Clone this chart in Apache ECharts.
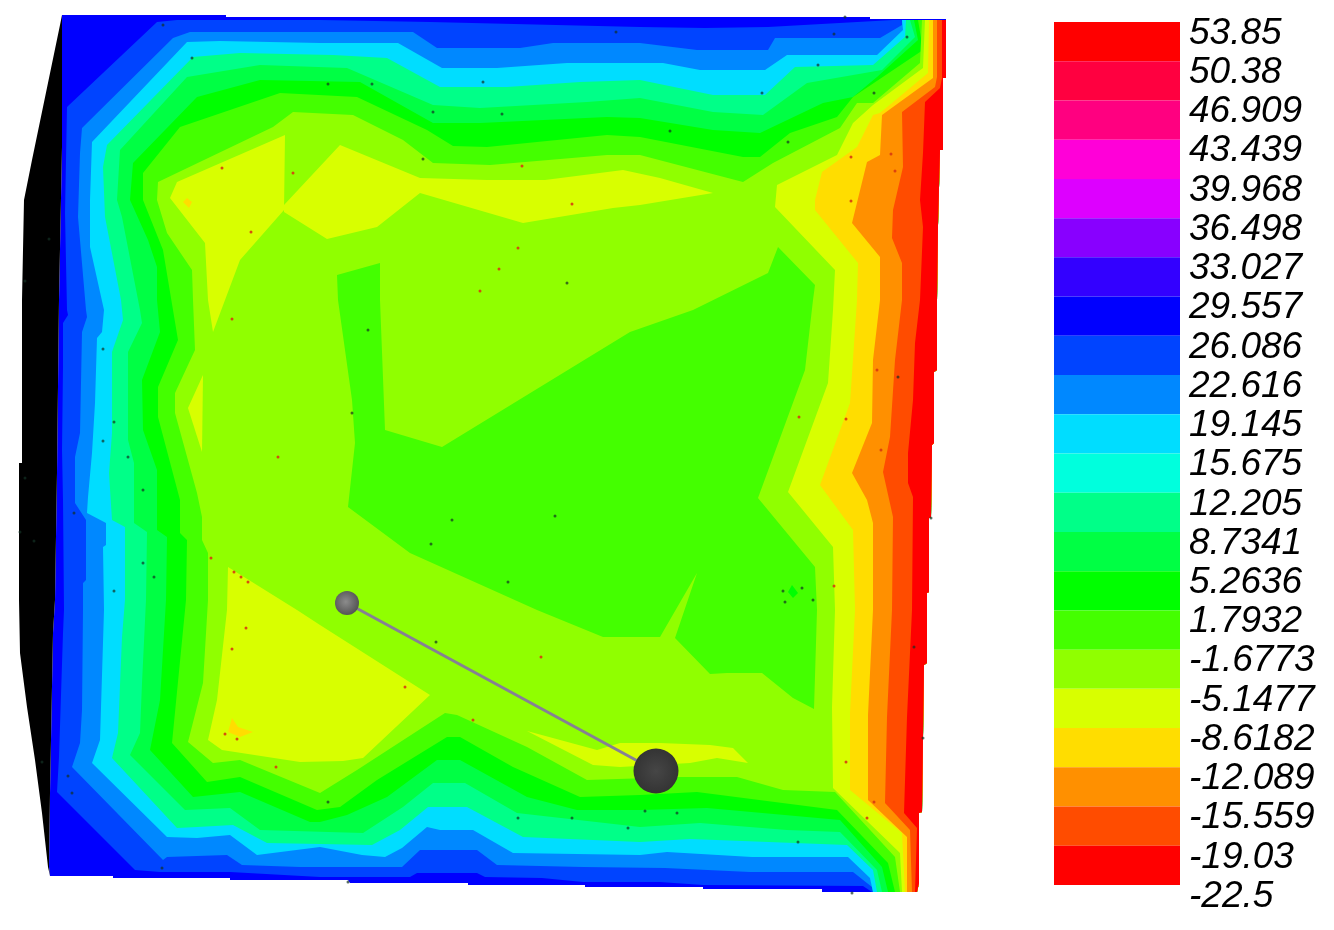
<!DOCTYPE html>
<html>
<head>
<meta charset="utf-8">
<title>Contour plot</title>
<style>
html, body { margin: 0; padding: 0; background: #fff; }
#chart { width: 1334px; height: 930px; filter: blur(0.6px); }
</style>
<script src="https://cdn.jsdelivr.net/npm/echarts@6/dist/echarts.min.js"></script>
</head>
<body>
<div id="chart"></div>
<script>
// colour scale, top to bottom
var levels = [53.85, 50.38, 46.909, 43.439, 39.968, 36.498, 33.027, 29.557, 26.086, 22.616, 19.145,
    15.675, 12.205, 8.7341, 5.2636, 1.7932, -1.6773, -5.1477, -8.6182, -12.089, -15.559, -19.03, -22.5];
var bandColors = ['#ff0000', '#ff0040', '#ff0080', '#ff00d8', '#dd00ff', '#8800ff', '#3300ff', '#0000ff',
    '#0044ff', '#0088ff', '#00ddff', '#00ffdd', '#00ff88', '#00ff44', '#00ff00', '#44ff00', '#90ff00',
    '#d8ff00', '#ffdd00', '#ff9000', '#ff4c00', '#ff0000'];

// plate edges
var topEdge = [[62, 15], [226, 15], [226, 17], [870, 17], [870, 19], [946, 19]];
var rightEdge = [[946, 20], [946, 78], [943, 78], [943, 150], [940, 150], [938, 225], [937, 300], [937, 370],
    [934, 372], [934, 443], [932, 445], [931, 517], [929, 518], [929, 592], [927, 593], [927, 663], [924, 665],
    [923, 737], [922, 812], [919, 813], [919, 883], [917, 892]];
var bottomEdge = [[822, 892], [822, 889], [703, 889], [703, 887], [585, 887], [585, 885], [468, 885], [468, 883],
    [350, 883], [348, 880], [230, 880], [230, 878], [113, 878], [113, 876], [50, 876]];
var leftEdge = [[48, 867], [42, 813], [35, 760], [27, 707], [20, 653], [19, 600], [19, 463], [22, 463], [22, 300],
    [24, 200], [32, 160], [43, 107], [60, 25]];
var blackEdge = [[49, 867], [50, 793], [53, 633], [55, 600], [57, 473], [59, 300], [62, 147], [62, 25]];

// contour lines, top edge round the left side to the bottom edge
var edge8 = [[893, 20], [768, 27], [705, 28], [640, 27], [430, 22], [320, 20], [240, 20], [177, 20], [157, 22],
    [67, 107], [65, 213], [67, 310], [68, 315], [63, 323], [63, 367], [62, 450], [63, 500], [64, 610], [63, 633],
    [59, 757], [57, 792], [135, 870], [160, 872], [230, 872], [320, 877], [410, 877], [417, 873], [477, 873],
    [485, 877], [542, 878], [583, 882], [660, 882], [703, 885], [863, 886], [872, 892]];
var edge9 = [[902, 20], [902, 25], [880, 38], [775, 38], [768, 50], [697, 50], [640, 43], [553, 43], [520, 48],
    [437, 48], [413, 32], [340, 32], [190, 32], [173, 38], [82, 128], [80, 153], [78, 217], [86, 310], [87, 317],
    [82, 332], [80, 433], [75, 457], [75, 503], [86, 520], [86, 580], [83, 583], [83, 610], [82, 710], [80, 743],
    [72, 767], [163, 860], [167, 857], [227, 855], [242, 865], [300, 867], [402, 867], [420, 850], [477, 850],
    [497, 865], [583, 867], [665, 868], [750, 872], [853, 872], [872, 887], [873, 892]];
var edge10 = [[902, 20], [903, 30], [877, 55], [787, 55], [765, 70], [700, 70], [663, 63], [567, 63], [497, 68],
    [442, 68], [398, 43], [320, 43], [220, 41], [187, 42], [92, 142], [90, 200], [90, 247], [104, 310], [102, 332],
    [97, 338], [95, 403], [92, 453], [88, 497], [87, 513], [106, 523], [106, 545], [103, 547], [104, 610], [100, 740],
    [92, 763], [167, 837], [197, 838], [230, 835], [257, 855], [320, 847], [362, 855], [385, 857], [402, 848],
    [427, 827], [440, 830], [473, 830], [513, 853], [640, 855], [667, 852], [752, 857], [848, 857], [870, 878],
    [873, 892]];
var edge12 = [[906, 20], [905, 37], [873, 65], [795, 67], [765, 95], [713, 95], [640, 80], [580, 82], [507, 87],
    [440, 87], [387, 58], [333, 55], [240, 53], [193, 57], [107, 145], [103, 167], [105, 217], [121, 300], [123, 320],
    [112, 352], [112, 433], [109, 473], [112, 520], [125, 527], [125, 600], [122, 637], [118, 733], [112, 758],
    [177, 828], [197, 827], [233, 825], [267, 843], [372, 845], [400, 830], [428, 807], [467, 807], [523, 837],
    [640, 842], [690, 839], [847, 845], [873, 870], [877, 892]];
var edge13 = [[910, 20], [915, 37], [882, 70], [807, 83], [763, 115], [713, 112], [640, 98], [587, 102], [480, 108],
    [433, 105], [347, 68], [260, 65], [187, 77], [120, 150], [117, 200], [122, 217], [140, 310], [142, 323], [128, 352],
    [128, 440], [134, 463], [134, 523], [147, 532], [146, 600], [142, 683], [140, 733], [130, 755], [185, 810],
    [230, 808], [260, 830], [363, 833], [403, 807], [433, 783], [465, 783], [517, 813], [640, 827], [700, 823],
    [787, 830], [840, 832], [877, 870], [882, 892]];
var edge14 = [[914, 20], [918, 40], [877, 77], [853, 97], [823, 103], [760, 133], [713, 130], [640, 118], [607, 117],
    [480, 123], [433, 123], [360, 82], [260, 80], [197, 97], [133, 163], [130, 200], [148, 240], [157, 267], [157, 300],
    [160, 332], [142, 380], [143, 430], [157, 470], [157, 530], [167, 537], [166, 600], [160, 700], [150, 750], [193, 797],
    [240, 792], [310, 822], [320, 822], [347, 815], [387, 797], [437, 760], [460, 760], [527, 797], [577, 810],
    [640, 810], [707, 808], [840, 820], [882, 867], [888, 892]];
var edge15 = [[918, 20], [923, 50], [853, 97], [837, 117], [790, 133], [760, 157], [743, 157], [640, 137], [607, 135],
    [487, 147], [453, 146], [427, 130], [357, 97], [280, 93], [180, 127], [143, 173], [143, 200], [163, 250],
    [173, 310], [178, 340], [158, 387], [158, 417], [180, 500], [180, 533], [187, 540], [186, 600], [172, 743],
    [207, 782], [240, 777], [317, 810], [340, 807], [377, 780], [447, 737], [460, 737], [513, 767], [580, 797],
    [640, 795], [697, 792], [837, 810], [888, 863], [895, 892]];
var edge16 = [[922, 20], [920, 63], [873, 103], [857, 103], [840, 128], [773, 163], [743, 182], [640, 155], [607, 155],
    [490, 165], [433, 163], [403, 140], [353, 115], [293, 112], [273, 127], [158, 182], [157, 200], [167, 233],
    [192, 270], [193, 300], [195, 350], [175, 393], [175, 413], [197, 493], [202, 517], [202, 540], [208, 553],
    [208, 600], [203, 683], [188, 742], [213, 763], [240, 760], [320, 793], [357, 770], [445, 713], [457, 715],
    [527, 747], [587, 780], [680, 777], [737, 777], [783, 790], [835, 792], [895, 857], [900, 892]];
var edge17 = [[925, 20], [923, 68], [873, 105], [853, 123], [837, 155], [777, 185], [775, 207], [835, 270], [833, 310],
    [828, 383], [788, 492], [833, 547], [835, 610], [832, 707], [833, 788], [900, 853], [902, 892]];
var edge18 = [[929, 20], [928, 73], [880, 113], [873, 115], [857, 147], [822, 172], [815, 200], [815, 210], [858, 263],
    [857, 300], [850, 403], [820, 485], [853, 530], [855, 610], [850, 713], [850, 790], [902, 833], [905, 892]];
var edge19 = [[933, 20], [933, 78], [882, 115], [880, 155], [867, 162], [852, 223], [880, 257], [880, 300], [873, 360],
    [872, 423], [852, 473], [867, 500], [873, 523], [873, 610], [868, 715], [868, 800], [907, 837], [907, 892]];
var edge20 = [[937, 20], [937, 77], [935, 87], [902, 112], [903, 167], [893, 210], [892, 238], [902, 263], [902, 300],
    [895, 360], [890, 437], [883, 472], [893, 517], [892, 610], [887, 717], [885, 803], [910, 830], [912, 892]];
var edge21 = [[942, 20], [942, 78], [940, 88], [925, 102], [923, 153], [920, 200], [923, 227], [920, 300], [915, 343],
    [913, 400], [908, 453], [908, 483], [913, 497], [912, 610], [907, 717], [904, 813], [917, 828], [915, 892]];

// closed patches inside the plate
var yellowTopLeft = [[170, 198], [177, 182], [285, 135], [284, 210], [240, 260], [225, 300], [213, 332], [208, 300], [205, 243]];
var yellowTopMid = [[284, 205], [340, 145], [420, 178], [487, 180], [545, 180], [623, 170], [660, 178], [713, 193],
    [640, 205], [613, 208], [523, 223], [420, 193], [377, 227], [327, 239], [284, 212]];
var yellowLeft = [[203, 375], [188, 408], [202, 452]];
var yellowBottomLeft = [[228, 567], [297, 610], [320, 625], [430, 695], [363, 758], [343, 761], [300, 762], [222, 750],
    [208, 740], [217, 700], [227, 610]];
var yellowBottomMid = [[527, 731], [597, 750], [620, 743], [660, 743], [710, 745], [733, 748], [748, 763], [717, 758],
    [690, 763], [620, 767], [593, 765]];
var orangeSpotLow = [[232, 718], [238, 727], [253, 732], [240, 737], [228, 732]];
var orangeSpotHigh = [[187, 198], [192, 202], [189, 208], [183, 202]];
var greenCentre = [[337, 275], [380, 263], [380, 300], [385, 430], [442, 447], [630, 332], [693, 310], [768, 273],
    [778, 247], [815, 285], [813, 300], [805, 370], [758, 498], [815, 567], [817, 610], [814, 709], [793, 698],
    [762, 673], [727, 673], [710, 674], [675, 638], [697, 573], [660, 637], [603, 637], [537, 610], [410, 553],
    [348, 507], [355, 443], [352, 400], [338, 300]];
var greenSpot = [[792, 585], [798, 593], [793, 598], [788, 592]];

// small mesh points
var redPoints = [[222, 168], [293, 173], [251, 232], [522, 166], [572, 204], [518, 248], [499, 269], [480, 291],
    [851, 157], [891, 154], [895, 171], [851, 201], [232, 319], [278, 457], [211, 558], [234, 572], [241, 577],
    [248, 582], [877, 370], [799, 417], [846, 419], [881, 450], [834, 586], [246, 628], [232, 649], [225, 734],
    [237, 739], [276, 767], [541, 657], [405, 687], [473, 720], [846, 762], [874, 802], [867, 818]];
var darkPoints = [[163, 25], [192, 58], [328, 84], [49, 239], [25, 281], [372, 84], [616, 32], [483, 82], [433, 112],
    [502, 114], [423, 159], [567, 283], [845, 17], [834, 34], [907, 37], [818, 65], [762, 93], [874, 93], [670, 131],
    [788, 142], [103, 349], [114, 422], [103, 441], [128, 457], [25, 478], [143, 490], [74, 513], [20, 532], [34, 541],
    [143, 563], [154, 577], [114, 591], [368, 330], [352, 413], [452, 520], [431, 544], [508, 582], [555, 516],
    [898, 377], [931, 518], [783, 591], [802, 588], [785, 602], [813, 600], [328, 802], [68, 776], [72, 793], [42, 762],
    [162, 868], [436, 642], [572, 818], [645, 811], [628, 828], [518, 818], [348, 882], [677, 813], [914, 647],
    [923, 738], [852, 893], [798, 842]];

// rod between the two balls
var rodEnds = [[347, 603], [656, 771]];

var closeRight = function (edge) {
    return edge.concat(rightEdge.slice().reverse());
};

var plateLayers = [
    { points: topEdge.concat(rightEdge, bottomEdge, blackEdge), color: bandColors[7] },
    { points: [[50, 876]].concat(leftEdge, [[62, 15]], blackEdge.slice().reverse()), color: '#000000' },
    { points: closeRight(edge8), color: bandColors[8] },
    { points: closeRight(edge9), color: bandColors[9] },
    { points: closeRight(edge10), color: bandColors[10] },
    { points: closeRight(edge12), color: bandColors[12] },
    { points: closeRight(edge13), color: bandColors[13] },
    { points: closeRight(edge14), color: bandColors[14] },
    { points: closeRight(edge15), color: bandColors[15] },
    { points: closeRight(edge16), color: bandColors[16] },
    { points: greenCentre, color: bandColors[15] },
    { points: greenSpot, color: bandColors[14] },
    { points: yellowTopLeft, color: bandColors[17] },
    { points: yellowTopMid, color: bandColors[17] },
    { points: yellowLeft, color: bandColors[17] },
    { points: yellowBottomLeft, color: bandColors[17] },
    { points: yellowBottomMid, color: bandColors[17] },
    { points: orangeSpotLow, color: bandColors[18] },
    { points: orangeSpotHigh, color: bandColors[18] },
    { points: closeRight(edge17), color: bandColors[17] },
    { points: closeRight(edge18), color: bandColors[18] },
    { points: closeRight(edge19), color: bandColors[19] },
    { points: closeRight(edge20), color: bandColors[20] },
    { points: closeRight(edge21), color: bandColors[21] }
];

var renderLayer = function (params, api) {
    var layer = plateLayers[params.dataIndex];
    return {
        type: 'polygon',
        shape: { points: layer.points.map(function (p) { return api.coord(p); }) },
        style: { fill: layer.color }
    };
};

var renderCell = function (params, api) {
    var i = params.dataIndex;
    var a = api.coord([0, levels[i]]);
    var b = api.coord([1, levels[i + 1]]);
    return {
        type: 'rect',
        shape: { x: a[0], y: a[1], width: b[0] - a[0], height: b[1] - a[1] },
        style: { fill: bandColors[i] }
    };
};

var myChart = echarts.init(document.getElementById('chart'), null, { renderer: 'canvas' });
myChart.setOption({
    animation: false,
    grid: [
        { left: 0, top: 0, width: 1000, height: 930 },
        { left: 1054, top: 22, width: 126, height: 863 }
    ],
    xAxis: [
        { type: 'value', gridIndex: 0, min: 0, max: 1000, show: false },
        { type: 'value', gridIndex: 1, min: 0, max: 1, show: false }
    ],
    yAxis: [
        { type: 'value', gridIndex: 0, min: 0, max: 930, inverse: true, show: false },
        {
            type: 'value',
            gridIndex: 1,
            position: 'right',
            min: -22.5,
            max: 53.85,
            axisLine: { show: false },
            axisTick: { show: false },
            splitLine: { show: false },
            axisLabel: {
                customValues: levels,
                margin: 9,
                align: 'left',
                verticalAlign: 'top',
                lineHeight: 23,
                color: '#000',
                fontFamily: 'Liberation Sans',
                fontStyle: 'italic',
                fontSize: 37,
                formatter: function (v) { return String(v); }
            }
        }
    ],
    series: [
        {
            type: 'custom',
            xAxisIndex: 0,
            yAxisIndex: 0,
            clip: false,
            silent: true,
            renderItem: renderLayer,
            data: plateLayers.map(function (l, i) { return [i]; })
        },
        {
            type: 'scatter',
            xAxisIndex: 0,
            yAxisIndex: 0,
            silent: true,
            symbolSize: 3,
            itemStyle: { color: '#d83a10', opacity: 0.9 },
            data: redPoints
        },
        {
            type: 'scatter',
            xAxisIndex: 0,
            yAxisIndex: 0,
            silent: true,
            symbolSize: 3,
            itemStyle: { color: '#123024', opacity: 0.7 },
            data: darkPoints
        },
        {
            type: 'line',
            xAxisIndex: 0,
            yAxisIndex: 0,
            silent: true,
            symbol: 'none',
            lineStyle: { color: '#868094', width: 3 },
            data: rodEnds
        },
        {
            type: 'scatter',
            xAxisIndex: 0,
            yAxisIndex: 0,
            silent: true,
            z: 5,
            symbolSize: 24,
            itemStyle: {
                opacity: 1,
                color: {
                    type: 'radial', x: 0.45, y: 0.45, r: 0.6,
                    colorStops: [{ offset: 0, color: '#8c8c8c' }, { offset: 1, color: '#505050' }]
                }
            },
            data: [rodEnds[0]]
        },
        {
            type: 'scatter',
            xAxisIndex: 0,
            yAxisIndex: 0,
            silent: true,
            z: 5,
            symbolSize: 45,
            itemStyle: {
                opacity: 1,
                color: {
                    type: 'radial', x: 0.5, y: 0.5, r: 0.6,
                    colorStops: [{ offset: 0, color: '#464646' }, { offset: 1, color: '#303030' }]
                }
            },
            data: [rodEnds[1]]
        },
        {
            type: 'custom',
            xAxisIndex: 1,
            yAxisIndex: 1,
            silent: true,
            renderItem: renderCell,
            data: bandColors.map(function (c, i) { return [0, levels[i]]; })
        }
    ]
});
</script>
</body>
</html>
